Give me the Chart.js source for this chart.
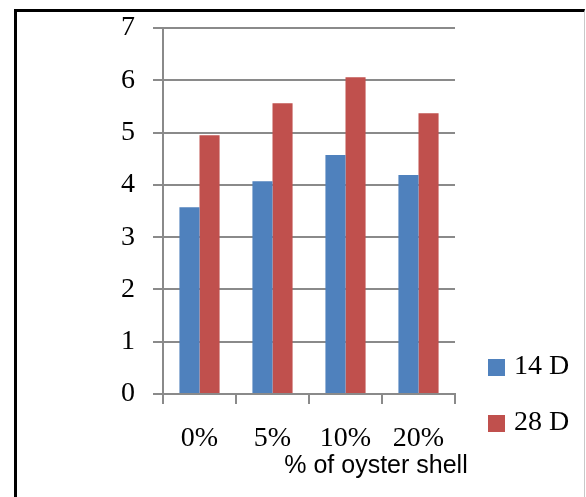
<!DOCTYPE html>
<html>
<head>
<meta charset="utf-8">
<script src="https://cdn.jsdelivr.net/npm/chart.js@4/dist/chart.umd.min.js"></script>
<style>
  html, body { margin: 0; padding: 0; background: #fff; }
  #wrap { position: relative; width: 586px; height: 497px; overflow: hidden; }
  #frame {
    position: absolute; left: 14px; top: 9px; width: 567px; height: 520px;
    border-left: 3px solid #000; border-top: 3px solid #000; border-right: 1px solid #c8c8c8;
  }
  canvas { position: absolute; left: 0; top: 0; }
</style>
</head>
<body>
<div id="wrap">
  <div id="frame"></div>
  <canvas id="chart" width="586" height="497"></canvas>
</div>
<script>
  // datos del grafico
  const categories = ["0%", "5%", "10%", "20%"];
  const seriesNames = ["14 D", "28 D"];
  const values14D = [3.57, 4.07, 4.57, 4.19];
  const values28D = [4.95, 5.56, 6.06, 5.37];
  const yMin = 0;
  const yMax = 7;
  const yStep = 1;
  const xTitle = "% of oyster shell";

  const colors = ["#4F81BD", "#C0504D"];
  const gridColor = "#8a8a8a";
  const serifFont = { family: "'Liberation Serif', 'Times New Roman', serif", size: 28 };

  // leyenda a la derecha, dibujada a mano
  const sideLegend = {
    id: "sideLegend",
    afterDraw(chart) {
      const ctx = chart.ctx;
      ctx.save();
      ctx.font = "28px 'Liberation Serif', serif";
      ctx.textBaseline = "middle";
      ctx.textAlign = "left";
      chart.data.datasets.forEach((ds, i) => {
        const y = 359 + i * 56;
        ctx.fillStyle = ds.backgroundColor;
        ctx.fillRect(488, y, 17, 17);
        ctx.fillStyle = "#000";
        ctx.fillText(ds.label, 514, y + 8);
      });
      ctx.restore();
    },
  };

  // titulo del eje x (desplazado a la derecha como en el original)
  const axisTitle = {
    id: "axisTitle",
    afterDraw(chart) {
      const ctx = chart.ctx;
      ctx.save();
      ctx.font = "25px 'Liberation Sans', Arial, sans-serif";
      ctx.fillStyle = "#000";
      ctx.textAlign = "center";
      ctx.textBaseline = "alphabetic";
      ctx.fillText(xTitle, 376, 473);
      ctx.restore();
    },
  };

  new Chart(document.getElementById("chart"), {
    type: "bar",
    data: {
      labels: categories,
      datasets: [
        { label: seriesNames[0], data: values14D, backgroundColor: colors[0] },
        { label: seriesNames[1], data: values28D, backgroundColor: colors[1] },
      ],
    },
    options: {
      responsive: false,
      animation: false,
      devicePixelRatio: 1,
      categoryPercentage: 0.55,
      barPercentage: 1.0,
      layout: { padding: { left: 0, top: 28, right: 131, bottom: 0 } },
      plugins: {
        legend: { display: false },
        tooltip: { enabled: false },
      },
      scales: {
        x: {
          grid: {
            drawOnChartArea: false,
            drawTicks: true,
            tickLength: 10,
            color: gridColor,
            lineWidth: 2,
            offset: true,
          },
          border: { color: gridColor, width: 2 },
          ticks: { color: "#000", font: serifFont, padding: 18 },
          afterFit: (scale) => {
            scale.height = 103;
            scale.paddingLeft = 0;
            scale.paddingRight = 0;
          },
        },
        y: {
          min: yMin,
          max: yMax,
          ticks: { stepSize: yStep, color: "#000", font: serifFont, padding: 18 },
          grid: { color: gridColor, lineWidth: 2, tickLength: 10 },
          border: { color: gridColor, width: 2 },
          afterFit: (scale) => {
            scale.width = 163;
            scale.paddingTop = 0;
            scale.paddingBottom = 0;
          },
        },
      },
    },
    plugins: [sideLegend, axisTitle],
  });
</script>
</body>
</html>
